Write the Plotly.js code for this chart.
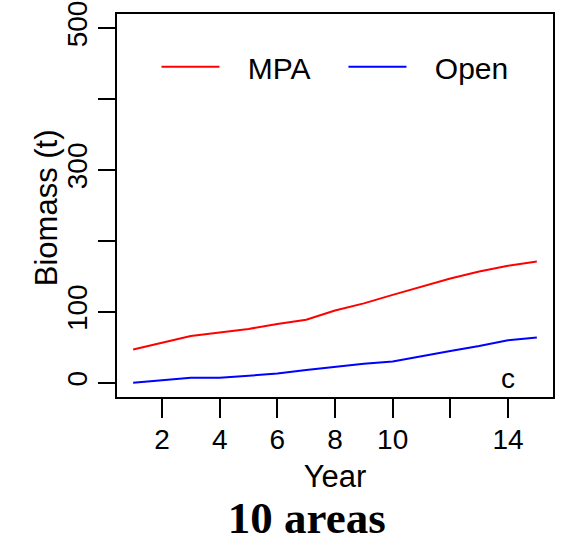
<!DOCTYPE html>
<html>
<head>
<meta charset="utf-8">
<script src="https://cdn.plot.ly/plotly-3.0.1.min.js"></script>
<style>html,body{margin:0;padding:0;background:#fff;}#chart{width:565px;height:544px;}</style>
</head>
<body>
<div id="chart"></div>
<script>
// Data
const years = [1, 2, 3, 4, 5, 6, 7, 8, 9, 10, 11, 12, 13, 14, 15];
const mpaBiomass = [47, 56, 66, 71, 76, 83, 89, 102, 112, 124, 136, 147, 157, 165, 171];
const openBiomass = [0, 4, 7, 7, 10, 13, 18, 23, 27, 30, 38, 45, 52, 60, 64];
const xTickVals = [2, 4, 6, 8, 10, 12, 14];
const xTickText = ['2', '4', '6', '8', '10', '', '14'];
const yTickVals = [0, 100, 200, 300, 400, 500];
const yTickText = ['0', '100', '', '300', '', '500'];

const font = 'Liberation Sans, Arial, sans-serif';
const pad = '\u2002\u00a0';

const traces = [
  {x: years, y: mpaBiomass, name: pad + 'MPA', type: 'scatter', mode: 'lines',
   line: {color: '#ff0000', width: 2}},
  {x: years, y: openBiomass, name: pad + 'Open', type: 'scatter', mode: 'lines',
   line: {color: '#0000ff', width: 2}}
];

const axisCommon = {
  showgrid: false, zeroline: false, showline: true, mirror: true,
  linecolor: '#000', linewidth: 2, ticks: 'outside', tickcolor: '#000',
  tickwidth: 2, tickmode: 'array', tickfont: {family: font, size: 28, color: '#000'}
};

const layout = {
  width: 565, height: 544,
  margin: {l: 117, r: 12, t: 14, b: 147},
  paper_bgcolor: '#fff', plot_bgcolor: '#fff',
  showlegend: true,
  legend: {orientation: 'h', x: 0.0905, y: 0.862, xanchor: 'left', yanchor: 'middle',
    font: {family: font, size: 30, color: '#000'}, bgcolor: 'rgba(0,0,0,0)',
    borderwidth: 0, itemwidth: 58, entrywidth: 114, entrywidthmode: 'pixels'},
  xaxis: Object.assign({}, axisCommon, {
    range: [0.44, 15.56], tickvals: xTickVals, ticktext: xTickText, ticklen: 19,
    ticklabelstandoff: -3,
    title: {text: 'Year', font: {family: font, size: 31, color: '#000'}, standoff: 12}
  }),
  yaxis: Object.assign({}, axisCommon, {
    range: [-20, 520], tickvals: yTickVals, ticktext: yTickText, ticklen: 17,
    tickangle: -90
  }),
  title: {text: '<b>10 areas</b>', font: {family: 'Liberation Serif, Times New Roman, serif', size: 45, color: '#000'},
    x: 0.543, xanchor: 'center', xref: 'container', y: 0.05, yanchor: 'middle', yref: 'container'},
  annotations: [
    {x: -0.161, y: 0.495, xref: 'paper', yref: 'paper', text: 'Biomass (t)', textangle: -90,
     showarrow: false, font: {family: font, size: 31, color: '#000'}, xanchor: 'center', yanchor: 'middle'},
    {x: 14, y: 6, xref: 'x', yref: 'y', text: 'c', showarrow: false,
     font: {family: font, size: 28, color: '#000'}, xanchor: 'center', yanchor: 'middle'}
  ]
};

Plotly.newPlot('chart', traces, layout, {displayModeBar: false, staticPlot: true});
</script>
</body>
</html>
